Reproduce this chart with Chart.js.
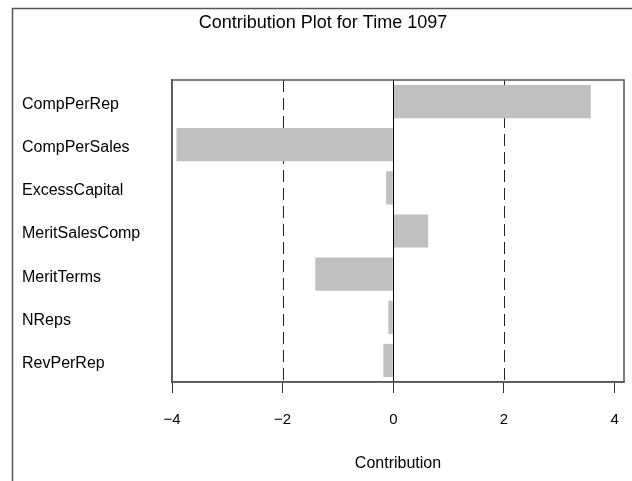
<!DOCTYPE html>
<html>
<head>
<meta charset="utf-8">
<script src="https://cdn.jsdelivr.net/npm/chart.js@4.4.0/dist/chart.umd.min.js"></script>
<style>
  html, body { margin: 0; padding: 0; background: #fff; }
  #wrap { width: 632px; height: 481px; }
</style>
</head>
<body>
<div id="wrap"><canvas id="contrib" width="632" height="481"></canvas></div>
<script>
// valores
const variaveis = ["CompPerRep", "CompPerSales", "ExcessCapital", "MeritSalesComp", "MeritTerms", "NReps", "RevPerRep"];
const contribuicoes = [3.57, -3.92, -0.13, 0.63, -1.41, -0.09, -0.18];
const ticksX = [-4, -2, 0, 2, 4];
const linhasRef = [-2, 2];

const fonte = "'Liberation Sans', Arial, Helvetica, sans-serif";

// moldura externa, caixa do grafico e linhas de referencia
const molduraPlugin = {
  id: "moldura",
  beforeDatasetsDraw(chart) {
    const ctx = chart.ctx;
    const x = chart.scales.x;
    const area = chart.chartArea;
    ctx.save();
    ctx.strokeStyle = "#222";
    ctx.lineWidth = 1;
    ctx.setLineDash([12, 6]);
    linhasRef.forEach((v) => {
      const px = Math.round(x.getPixelForValue(v)) + 0.5;
      ctx.beginPath();
      ctx.moveTo(px, area.top);
      ctx.lineTo(px, area.bottom);
      ctx.stroke();
    });
    ctx.restore();
  },
  afterDatasetsDraw(chart) {
    const ctx = chart.ctx;
    const x = chart.scales.x;
    const area = chart.chartArea;
    ctx.save();
    // linha do zero
    const px0 = Math.round(x.getPixelForValue(0)) + 0.5;
    ctx.strokeStyle = "#000";
    ctx.lineWidth = 1;
    ctx.beginPath();
    ctx.moveTo(px0, area.top);
    ctx.lineTo(px0, area.bottom);
    ctx.stroke();
    // caixa
    ctx.strokeStyle = "#555";
    ctx.lineWidth = 1.5;
    ctx.strokeRect(area.left, area.top, area.right - area.left, area.bottom - area.top);
    // moldura externa
    ctx.beginPath();
    ctx.moveTo(12.5, chart.height);
    ctx.lineTo(12.5, 8.5);
    ctx.lineTo(chart.width, 8.5);
    ctx.stroke();
    ctx.restore();
  },
};

const ctx = document.getElementById("contrib");
window.myChart = new Chart(ctx, {
  type: "bar",
  data: {
    labels: variaveis,
    datasets: [
      {
        label: "Contribution",
        data: contribuicoes,
        backgroundColor: "#c0c0c0",
        borderWidth: 0,
        categoryPercentage: 1,
        barPercentage: 0.77,
      },
    ],
  },
  options: {
    indexAxis: "y",
    responsive: false,
    animation: false,
    layout: { padding: { left: 22, right: 8, top: 0, bottom: 0 } },
    plugins: {
      legend: { display: false },
      tooltip: { enabled: false },
      title: {
        display: true,
        text: "Contribution Plot for Time 1097",
        color: "#000",
        font: { family: fonte, size: 18, weight: "normal" },
        padding: { top: 12, bottom: 46.4 },
      },
    },
    scales: {
      x: {
        type: "linear",
        min: -4,
        max: 4.17,
        afterBuildTicks: (scale) => {
          scale.ticks = ticksX.map((v) => ({ value: v }));
        },
        afterFit: (scale) => {
          scale.height = 99;
          scale.paddingLeft = 0;
          scale.paddingRight = 0;
        },
        grid: {
          drawOnChartArea: false,
          drawTicks: true,
          tickLength: 11,
          tickColor: "#333",
          tickWidth: 1,
        },
        border: { display: true, color: "#555", width: 1.5 },
        ticks: {
          color: "#000",
          padding: 18,
          font: { family: fonte, size: 15 },
          callback: (v) => (v < 0 ? "\u2212" + Math.abs(v) : String(v)),
        },
        title: {
          display: true,
          text: "Contribution",
          color: "#000",
          font: { family: fonte, size: 16 },
          padding: { top: 0, bottom: 7.5 },
        },
      },
      y: {
        afterFit: (scale) => {
          scale.width = 150;
        },
        grid: { display: false },
        border: { display: true, color: "#555", width: 1.5 },
        ticks: {
          color: "#000",
          crossAlign: "far",
          padding: 0,
          labelOffset: 3,
          font: { family: fonte, size: 16 },
        },
      },
    },
  },
  plugins: [molduraPlugin],
});
</script>
</body>
</html>
